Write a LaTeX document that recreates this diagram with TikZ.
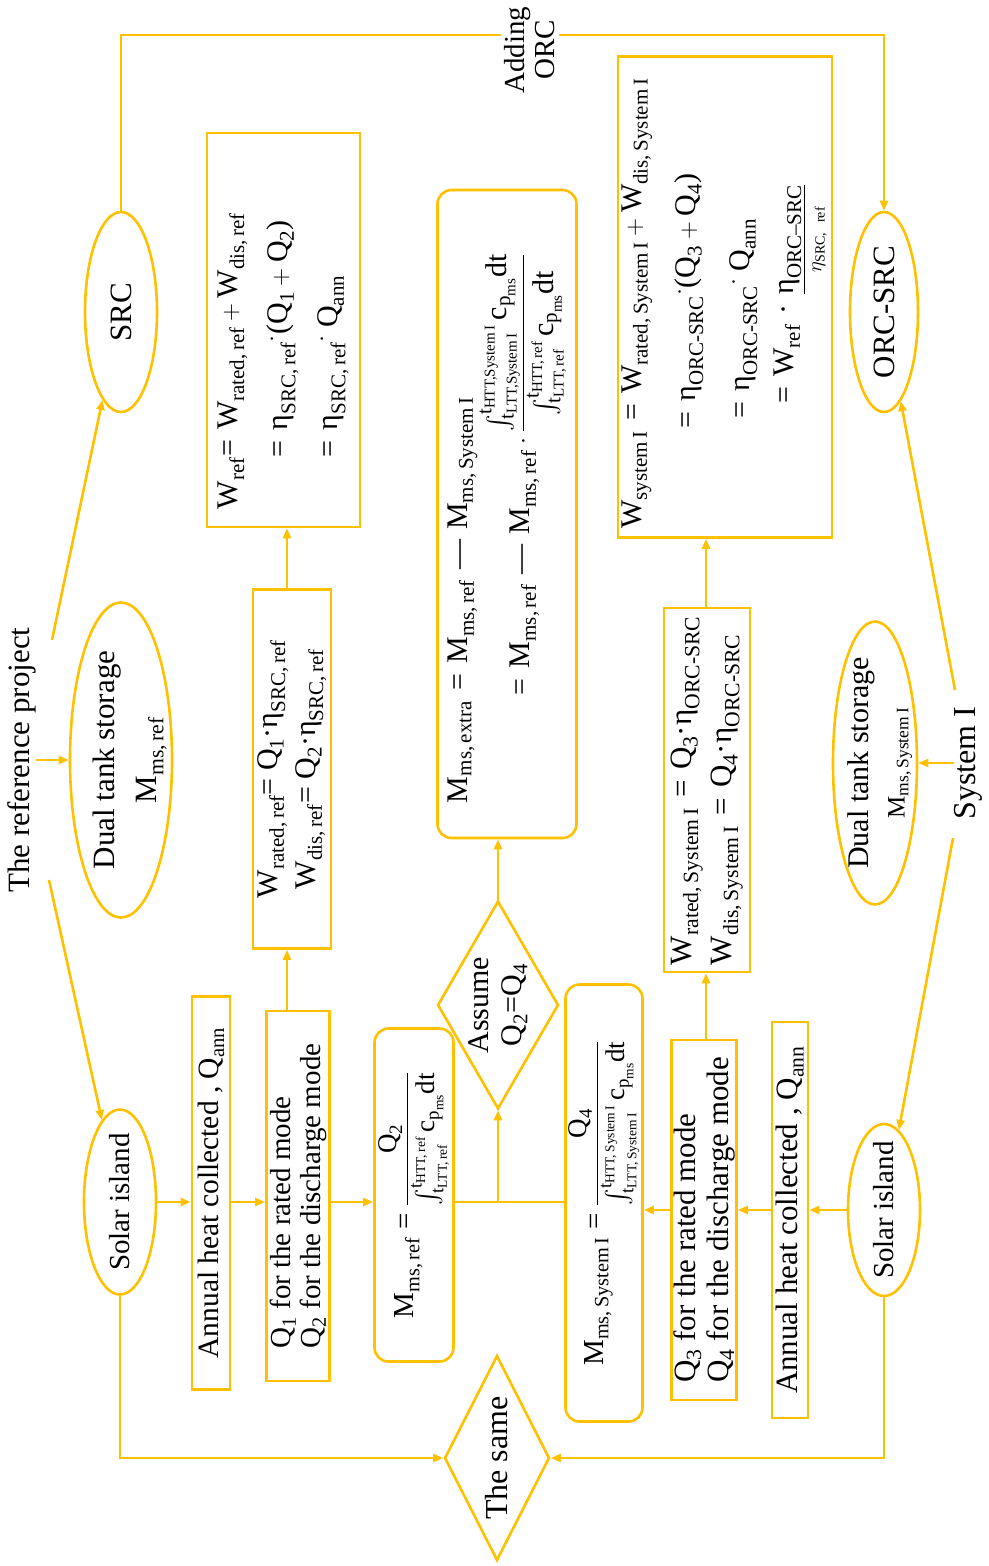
\documentclass[tikz,border=0pt]{standalone}
\usepackage{amsmath}
\usepackage{fontspec}
\setmainfont{Liberation Serif}
\usetikzlibrary{shapes.geometric,arrows.meta}
\definecolor{orng}{RGB}{255,192,0}
\newcommand{\V}[2]{\text{#1}_{\text{\spaceskip=.17em\relax #2}}}
\newcommand{\fs}[1]{\fontsize{#1}{#1}\selectfont}
\newcommand{\fsb}[2]{\fontsize{#1}{#2}\selectfont}
\newcommand{\cpdt}{\text{c}_{\V{p}{ms}}\text{dt}}
\tikzset{
 oline/.style={draw=orng, line width=2.6pt},
 arr/.style={oline, -{Triangle[length=10pt,width=8pt]}},
 box/.style={oline, rectangle, rotate=90, inner sep=0pt, align=center},
 rbox/.style={box, rounded corners=14pt},
 ell/.style={oline, ellipse, rotate=90, inner sep=0pt},
 dia/.style={oline, diamond, rotate=90, inner sep=0pt, align=center},
 lab/.style={rotate=90, inner sep=0pt, align=center},
}
\begin{document}
\begin{tikzpicture}[x=1pt,y=-1pt]
\useasboundingbox (0,0) rectangle (988,1566);

% ---------- reference side ----------
\node[lab, font=\fs{31}] (refproj) at (22,760) {The reference project};
\node[ell, minimum width=315pt, minimum height=102pt] (tankref) at (121,760) {};
\node[lab, font=\fsb{31}{42}] (tankrefT) at ([xshift=9pt]tankref.center) {Dual tank storage\\$\V{M}{ms, ref}$};
\node[ell, minimum width=200pt, minimum height=72pt, font=\fs{31}] (src) at (121,312) {SRC};
\node[ell, minimum width=185pt, minimum height=72pt] (solarref) at (120,1202) {};
\node[lab, font=\fs{29}] (solarrefT) at (solarref) {Solar island};
\node[box, minimum width=393pt, minimum height=38pt, font=\fs{29.5}] (annref) at (211,1193) {Annual heat collected , $\V{Q}{ann}$};
\node[box, minimum width=370pt, minimum height=63pt, align=left, font=\fsb{29}{30}] (q12) at (298,1196) {$\V{Q}{1}$ for the rated mode\\$\V{Q}{2}$ for the discharge mode};
\node[box, minimum width=359pt, minimum height=78pt, font=\fsb{30}{38}] (wratedref) at (292,769)
 {\mbox{$\V{W}{rated, ref}\text{= }\V{Q}{1}\text{·}\V{η}{SRC, ref}$}\\\mbox{$\V{W}{dis, ref}\text{= }\V{Q}{2}\text{·}\V{η}{SRC, ref}$}};
\node[box, minimum height=153pt, text width=358pt, inner xsep=18pt, align=left, font=\fsb{30}{50}] (wref) at (283.5,330)
 {\mbox{$\V{W}{ref}\text{= }\V{W}{rated, ref}+\V{W}{dis, ref}$}\\
  \hspace*{52pt}\mbox{$\text{= }\V{η}{SRC, ref}{}^{\text{·}}\text{(}\V{Q}{1}+\V{Q}{2}\text{)}$}\\
  \hspace*{52pt}\mbox{$\text{= }\V{η}{SRC, ref}{}^{\text{·}}\;\V{Q}{ann}$}};
\node[rbox, minimum width=333pt, minimum height=79pt] (mmsref) at (414,1195)
 {{\fs{29}$\V{M}{ms, ref}$ = }{\fs{27}$\dfrac{\V{Q}{2}}{\int_{\V{t}{LTT, ref}}^{\V{t}{HTT, ref}}\cpdt}$}};

% ---------- middle ----------
\node[dia, aspect=1.72, minimum width=208pt, minimum height=121pt, font=\fsb{30}{33}] (assume) at (498,1005) {Assume\\$\V{Q}{2}$=$\V{Q}{4}$};
\node[rbox, minimum height=139pt, text width=578pt, inner xsep=35pt, align=left, font=\fsb{30}{62}] (mmsextra) at (507,514)
 {\mbox{$\V{M}{ms, extra}\text{ = }\V{M}{ms, ref}\text{ — }\V{M}{ms, System I}$}\\
  \hspace*{108pt}\mbox{$\text{= }\V{M}{ms, ref}\text{ — }\V{M}{ms, ref}\cdot\dfrac{\int_{\V{t}{LTT,System I}}^{\V{t}{HTT,System I}}\cpdt}{\int_{\V{t}{LTT, ref}}^{\V{t}{HTT, ref}}\cpdt}$}};
\node[dia, aspect=1.95, minimum width=205pt, minimum height=105pt, font=\fs{32}] (same) at (497,1458) {The same};
\node[lab, font=\fsb{29}{30}, inner ysep=4pt] (adding) at (530,50) {Adding\\ORC};

% ---------- system I side ----------
\node[rbox, minimum width=437pt, minimum height=77pt] (mmssys) at (604,1203)
 {{\fs{29}$\V{M}{ms, System I}$ = }{\fs{27}$\dfrac{\V{Q}{4}}{\int_{\V{t}{LTT, System I}}^{\V{t}{HTT, System I}}\cpdt}$}};
\node[box, minimum width=360pt, minimum height=65pt, align=left, font=\fsb{31}{33}] (q34) at (704,1220) {$\V{Q}{3}$ for the rated mode\\$\V{Q}{4}$ for the discharge mode};
\node[box, minimum width=396pt, minimum height=36pt, font=\fs{31}] (annsys) at (790,1220) {Annual heat collected , $\V{Q}{ann}$};
\node[ell, minimum width=172pt, minimum height=72pt] (solarsys) at (884,1210) {};
\node[lab, font=\fs{29}] (solarsysT) at (solarsys) {Solar island};
\node[ell, minimum width=283pt, minimum height=84pt] (tanksys) at (875,763) {};
\node[lab, font=\fsb{30}{36}] (tanksysT) at ([xshift=5pt]tanksys.center) {Dual tank storage\\{\fs{25}$\V{M}{ms, System I}$}};
\node[lab, font=\fs{32}] (sysI) at (968,763) {System I};
\node[ell, minimum width=200pt, minimum height=68pt, font=\fs{31}] (orcsrc) at (884,312) {ORC-SRC};
\node[box, minimum width=364pt, minimum height=86pt, text width=350pt, inner xsep=7pt, align=left, font=\fsb{31}{40}] (wratedsys) at (707,790)
 {\mbox{$\V{W}{rated, System I}\text{ = }\V{Q}{3}\text{·}\V{η}{ORC-SRC}$}\\\mbox{$\V{W}{dis, System I}\text{ = }\V{Q}{4}\text{·}\V{η}{ORC-SRC}$}};
\node[box, minimum height=214pt, text width=463pt, inner xsep=9pt, align=left, font=\fsb{30}{54}] (wsys) at (725,297)
 {\mbox{$\V{W}{system I}\text{ = }\V{W}{rated, System I}+\V{W}{dis, System I}$}\\
  \hspace*{100pt}\mbox{$\text{= }\V{η}{ORC-SRC}{}^{\text{·}}\text{(}\V{Q}{3}+\V{Q}{4}\text{)}$}\\
  \hspace*{110pt}\mbox{$\text{= }\V{η}{ORC-SRC}{}^{\text{·}}\;\V{Q}{ann}$}\\[-10pt]
  \hspace*{125pt}\mbox{$\text{= }\V{W}{ref}\text{ · }${\renewcommand{\arraystretch}{0.4}\begin{tabular}[t]{@{}c@{}}\underline{$\V{η}{ORC–SRC}$}\\{\fs{20}$\eta_{\text{SRC, ref}}$}\end{tabular}}}};

% ---------- connectors ----------
\coordinate (rp1) at (52,640);
\coordinate (rp2) at (49,880);
\coordinate (s1) at (955,690);
\coordinate (s2) at (953,838);
\coordinate (c1) at (121,35);
\coordinate (c2) at (884,35);
\coordinate (v1) at (287,0);
\coordinate (v2) at (706,0);

\draw[arr] (refproj.south) -- (tankref.north);
\draw[arr] (rp1) -- (src);
\draw[arr] (rp2) -- (solarref);
\draw[arr] (sysI.north) -- (tanksys.south);
\draw[arr] (s1) -- (orcsrc);
\draw[arr] (s2) -- (solarsys);

\draw[arr] (solarref.south) -- (solarref.south -| annref.north);
\draw[arr] (annref.south |- solarref.south) -- (q12.north |- solarref.south);
\draw[arr] (q12.south |- solarref.south) -- (mmsref.north |- solarref.south);
\draw[oline] (mmsref.south |- solarref.south) -- (mmssys.north |- solarref.south);
\draw[arr] (assume.west |- solarref.south) -- (assume.west);
\draw[arr] (assume.east) -- (assume.east |- mmsextra.west);

\draw[arr] (solarsys.north) -- (solarsys.north -| annsys.south);
\draw[arr] (annsys.north |- solarsys.north) -- (q34.south |- solarsys.north);
\draw[arr] (q34.north |- solarsys.north) -- (mmssys.south |- solarsys.north);

\draw[arr] (v1 |- q12.east) -- (v1 |- wratedref.west);
\draw[arr] (v1 |- wratedref.east) -- (v1 |- wref.west);
\draw[arr] (v2 |- q34.east) -- (v2 |- wratedsys.west);
\draw[arr] (v2 |- wratedsys.east) -- (v2 |- wsys.west);

\draw[oline] (src.east) -- (c1) -- (adding.north |- c1);
\draw[arr] (adding.south |- c1) -- (c2) -- (orcsrc.east);

\draw[arr] (solarref.west) |- (same.north);
\draw[arr] (solarsys.west) |- (same.south);
\end{tikzpicture}
\end{document}
